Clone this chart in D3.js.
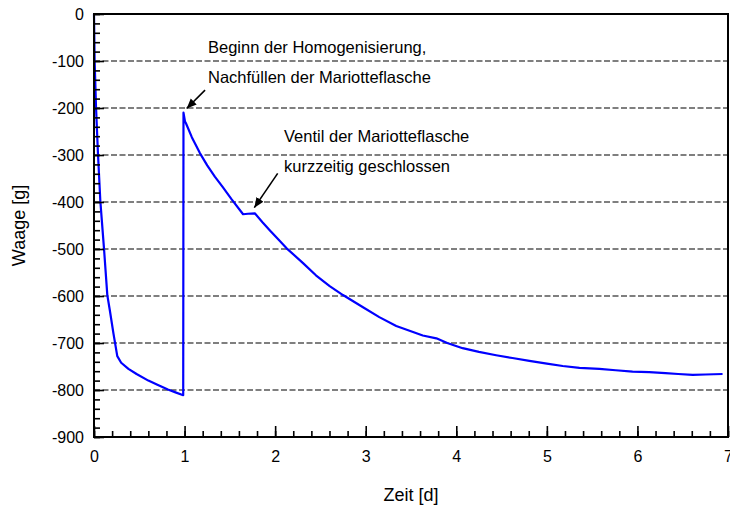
<!DOCTYPE html>
<html>
<head>
<meta charset="utf-8">
<script src="https://cdn.jsdelivr.net/npm/d3@7/dist/d3.min.js"></script>
<style>
  html, body { margin: 0; padding: 0; background: #fff; }
  svg { display: block; font-family: "Liberation Sans", Arial, sans-serif; }
</style>
</head>
<body>
<svg id="chart" width="730" height="506"></svg>
<script>
// Balance reading (Waage) over time (Zeit) in days
const days = [0, 0.007, 0.022, 0.044, 0.07, 0.11, 0.147, 0.176, 0.215, 0.257, 0.30, 0.38, 0.47, 0.60, 0.70, 0.816, 0.90, 0.985,
  0.988, 1.005, 1.014, 1.08, 1.169, 1.25, 1.334, 1.42, 1.518, 1.646, 1.70, 1.775, 1.86, 1.94, 2.052, 2.124, 2.308, 2.45, 2.602,
  2.749, 2.97, 3.15, 3.337, 3.484, 3.63, 3.78, 3.90, 4.07, 4.25, 4.44, 4.62, 4.807, 5.0, 5.175, 5.36, 5.58, 5.76, 5.946, 6.13,
  6.31, 6.45, 6.61, 6.75, 6.94];
const weights = [0, -100, -197, -298, -398, -498, -598, -632, -680, -728, -742, -755, -766, -780, -789, -799, -805, -811,
  -210, -229, -232, -262, -296, -322, -346, -368, -394, -426, -425, -424, -443, -460, -483, -498, -530, -556, -579,
  -598, -624, -645, -664, -674, -684, -690, -700, -711, -719, -726, -732, -738, -744, -749, -753, -755, -758, -761, -762,
  -764, -766, -768, -767, -766];

const xTicks = [0, 1, 2, 3, 4, 5, 6, 7];
const yTicks = [0, -100, -200, -300, -400, -500, -600, -700, -800, -900];
const gridValues = [-100, -200, -300, -400, -500, -600, -700, -800];

// Annotation texts, anchored in data units [day, grams]
const notes = [
  { lines: ["Beginn der Homogenisierung,", "Nachfüllen der Mariotteflasche"], at: [1.259, -83], arrowFrom: [1.226, -162], arrowTo: [1.023, -201] },
  { lines: ["Ventil der Mariotteflasche", "kurzzeitig geschlossen"], at: [2.098, -272], arrowFrom: [2.028, -339], arrowTo: [1.77, -412] }
];

const svg = d3.select("#chart");
const plotLeft = 94, plotRight = 728, plotTop = 14, plotBottom = 437;

const x = d3.scaleLinear().domain([0, 7]).range([plotLeft, plotRight]);
const y = d3.scaleLinear().domain([0, -900]).range([plotTop, plotBottom]);

// dashed horizontal grid
svg.append("g").selectAll("line").data(gridValues).join("line")
  .attr("x1", plotLeft).attr("x2", plotRight)
  .attr("y1", d => y(d)).attr("y2", d => y(d))
  .attr("stroke", "#000").attr("stroke-width", 1.2)
  .attr("stroke-dasharray", "6,2.5");

// data curve
const line = d3.line().x((d, i) => x(days[i])).y(d => y(d));
svg.append("path")
  .attr("d", line(weights))
  .attr("fill", "none")
  .attr("stroke", "#0000ff")
  .attr("stroke-width", 2.2)
  .attr("stroke-linejoin", "round");

// axes with inward ticks
const xMinor = d3.range(0, 7.001, 0.2).map(v => +v.toFixed(1));
const yMinor = d3.range(0, -900.1, -20);

const gx = svg.append("g").attr("transform", `translate(0,${plotBottom})`);
gx.call(d3.axisBottom(x).tickValues(xMinor).tickSize(-6).tickFormat(""));
gx.append("g").call(d3.axisBottom(x).tickValues(xTicks).tickSize(-11).tickPadding(14).tickFormat(d3.format("d")));

const gy = svg.append("g").attr("transform", `translate(${plotLeft},0)`);
gy.call(d3.axisLeft(y).tickValues(yMinor).tickSize(-6).tickFormat(""));
gy.append("g").call(d3.axisLeft(y).tickValues(yTicks).tickSize(-10).tickPadding(10).tickFormat(d => d === 0 ? "0" : "-" + Math.abs(d)));

svg.selectAll(".domain").remove();
svg.selectAll(".tick line").attr("stroke", "#000").attr("stroke-width", 1.6);
svg.selectAll(".tick text").attr("font-size", 16).attr("fill", "#000")
  .attr("font-family", "'Liberation Sans', Arial, sans-serif");

// frame
svg.append("rect")
  .attr("x", plotLeft).attr("y", plotTop)
  .attr("width", plotRight - plotLeft).attr("height", plotBottom - plotTop)
  .attr("fill", "none").attr("stroke", "#000").attr("stroke-width", 2);

// axis titles
svg.append("text")
  .attr("x", (plotLeft + plotRight) / 2).attr("y", 501)
  .attr("text-anchor", "middle").attr("font-size", 18)
  .text("Zeit [d]");
svg.append("text")
  .attr("transform", `translate(25,${(plotTop + plotBottom) / 2}) rotate(-90)`)
  .attr("text-anchor", "middle").attr("font-size", 18)
  .text("Waage [g]");

// annotations
svg.append("defs").append("marker")
  .attr("id", "head").attr("viewBox", "0 0 10 10")
  .attr("refX", 10).attr("refY", 5)
  .attr("markerWidth", 10).attr("markerHeight", 10)
  .attr("markerUnits", "userSpaceOnUse")
  .attr("orient", "auto")
  .append("path").attr("d", "M0,0.8 L10,5 L0,9.2 Z").attr("fill", "#000");

notes.forEach(n => {
  const t = svg.append("text")
    .attr("x", x(n.at[0])).attr("y", y(n.at[1]))
    .attr("font-size", 16.5).attr("fill", "#000");
  n.lines.forEach((s, i) => {
    t.append("tspan").attr("x", x(n.at[0])).attr("dy", i === 0 ? 0 : 30).text(s);
  });
  svg.append("line")
    .attr("x1", x(n.arrowFrom[0])).attr("y1", y(n.arrowFrom[1]))
    .attr("x2", x(n.arrowTo[0])).attr("y2", y(n.arrowTo[1]))
    .attr("stroke", "#000").attr("stroke-width", 1.6)
    .attr("marker-end", "url(#head)");
});
</script>
</body>
</html>
